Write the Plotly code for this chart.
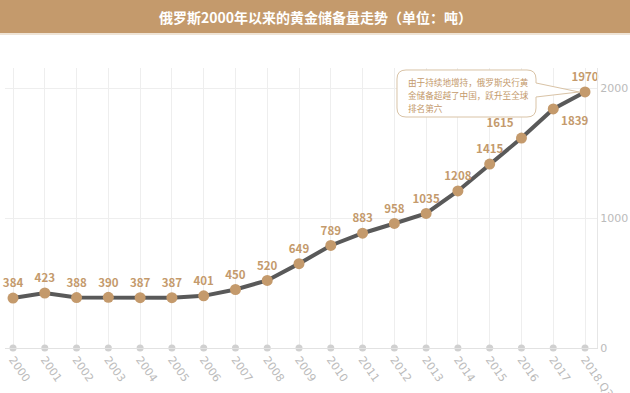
import plotly.graph_objects as go

years = ["2000", "2001", "2002", "2003", "2004", "2005", "2006", "2007", "2008", "2009",
         "2010", "2011", "2012", "2013", "2014", "2015", "2016", "2017", "2018.Q3"]
reserves = [384, 423, 388, 390, 387, 387, 401, 450, 520, 649,
            789, 883, 958, 1035, 1208, 1415, 1615, 1839, 1970]
label_pos = ["top center"] * 16 + ["top left", "bottom right", "top center"]
y_ticks = [0, 1000, 2000]

title = "俄罗斯2000年以来的黄金储备量走势（单位：吨）"
note_lines = ["由于持续地增持，俄罗斯央行黄", "金储备超越了中国，跃升至全球", "排名第六"]

TAN = "#C49A6C"
FONT = "Noto Sans CJK SC"
W, H = 630, 393
L, R, T, B = 5, 33, 68, 45
PW, PH = W - L - R, H - T - B

def px(x):
    return (x - L) / PW

def py(y):
    return (H - B - y) / PH

xs = list(range(len(years)))

fig = go.Figure()
fig.add_trace(go.Scatter(x=xs, y=[0] * len(xs), mode="markers",
                         marker=dict(color="#d0d0d0", size=7), cliponaxis=False,
                         hoverinfo="skip", showlegend=False))
fig.add_trace(go.Scatter(
    x=xs, y=reserves, mode="lines+markers+text",
    line=dict(color="#595959", width=4),
    marker=dict(color=TAN, size=11),
    text=[str(v) for v in reserves], textposition=label_pos,
    textfont=dict(family=FONT, size=11.5, color=TAN, weight="bold"),
    cliponaxis=False, showlegend=False))

fig.add_shape(type="rect", xref="paper", yref="paper",
              x0=px(0), x1=px(W), y0=py(33), y1=py(0),
              fillcolor=TAN, line=dict(width=0), layer="below")
fig.add_shape(type="line", xref="paper", yref="paper",
              x0=px(0), x1=px(W), y0=py(34), y1=py(34),
              line=dict(color="#EFE4D6", width=2))
fig.add_annotation(text=title, xref="paper", yref="paper", x=px(315), y=py(17),
                   showarrow=False, xanchor="center", yanchor="middle",
                   font=dict(family=FONT, size=14, color="white", weight="bold"))

x0, x1, y0, y1, r = 397, 536, 70, 117, 9
pts = [
    ("M", x0 + r, y0), ("L", x1 - r, y0), ("Q", x1, y0, x1, y0 + r),
    ("L", x1, 83), ("L", 579, 92), ("L", x1, 97),
    ("L", x1, y1 - r), ("Q", x1, y1, x1 - r, y1),
    ("L", x0 + r, y1), ("Q", x0, y1, x0, y1 - r),
    ("L", x0, y0 + r), ("Q", x0, y0, x0 + r, y0),
]
path = ""
for p in pts:
    coords = p[1:]
    segs = [f"{px(coords[i]):.5f},{py(coords[i+1]):.5f}" for i in range(0, len(coords), 2)]
    path += p[0] + " ".join(segs) + " "
path += "Z"
fig.add_shape(type="path", path=path, xref="paper", yref="paper",
              fillcolor="white", line=dict(color="#D9C3A6", width=1))
for i, line in enumerate(note_lines):
    fig.add_annotation(text=line, xref="paper", yref="paper", x=px(406), y=py(82 + 13 * i),
                       showarrow=False, xanchor="left", yanchor="middle", align="left",
                       font=dict(family=FONT, size=8.6, color=TAN))

fig.update_layout(
    width=W, height=H, margin=dict(l=L, r=R, t=T, b=B, autoexpand=False),
    paper_bgcolor="white", plot_bgcolor="white",
    font=dict(family=FONT),
    xaxis=dict(range=[-0.252, 18.377], tickmode="array", tickvals=xs, ticktext=years,
               tickangle=55, showgrid=True, gridcolor="#eeeeee", gridwidth=1,
               zeroline=False, showline=True, linecolor="#e2e2e2", ticks="",
               automargin=False,
               tickfont=dict(family="DejaVu Sans", size=11, color="#bbbbbb")),
    yaxis=dict(range=[0, 2154], side="right", tickmode="array", tickvals=y_ticks,
               showgrid=True, gridcolor="#eeeeee", zeroline=False,
               showline=True, linecolor="#e6e6e6", ticks="", automargin=False,
               tickfont=dict(family="DejaVu Sans", size=11, color="#bbbbbb")),
)

fig.write_html("out.html", config={"displayModeBar": False})
with open("out.html", encoding="utf-8") as f:
    html = f.read()
html = html.replace("<head>", "<head><style>html,body{margin:0;padding:0;overflow:hidden}</style>", 1)
with open("out.html", "w", encoding="utf-8") as f:
    f.write(html)
